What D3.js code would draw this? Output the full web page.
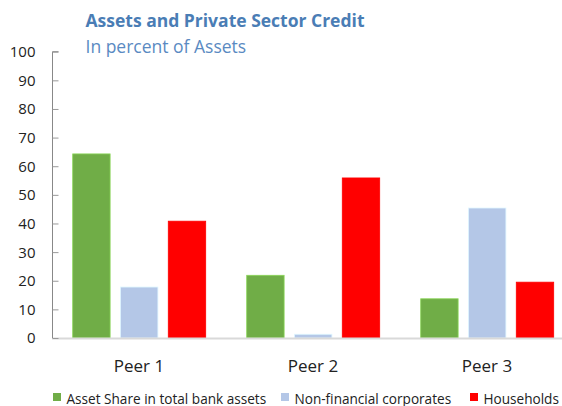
<!DOCTYPE html>
<html>
<head>
<meta charset="utf-8">
<script src="https://cdn.jsdelivr.net/npm/d3@7"></script>
<style>
  html, body { margin: 0; padding: 0; background: #fff; }
  svg { display: block; font-family: "Open Sans", "Noto Sans", sans-serif; }
</style>
</head>
<body>
<div id="chart"></div>
<script>
// Categories, series and axis ticks
const categories = ["Peer 1", "Peer 2", "Peer 3"];
const seriesNames = ["Asset Share in total bank assets", "Non-financial corporates", "Households"];
const assetShare = [64.3, 21.9, 13.7];
const nonFinancialCorporates = [17.8, 1.3, 45.4];
const households = [40.8, 55.9, 19.5];
const yTicks = [0, 10, 20, 30, 40, 50, 60, 70, 80, 90, 100];
const seriesColors = ["#70AD47", "#B4C7E7", "#FF0000"];

const seriesValues = [assetShare, nonFinancialCorporates, households];

const W = 562, H = 406;
const svg = d3.select("#chart").append("svg").attr("width", W).attr("height", H);

const x0 = d3.scaleBand().domain(categories).range([52, 574]).paddingInner(0).paddingOuter(0);
const x1 = d3.scaleBand().domain(seriesNames).range([20.7, 153.7]).paddingInner(0.217).paddingOuter(0);
const y = d3.scaleLinear().domain([0, 100]).range([338, 51.7]);

// Title and subtitle
svg.append("text").attr("x", 85.5).attr("y", 27)
  .attr("font-size", 17.5).attr("font-weight", 700).attr("fill", "#4A7DB5")
  .text("Assets and Private Sector Credit");
svg.append("text").attr("x", 85.5).attr("y", 53)
  .attr("font-size", 17.5).attr("fill", "#5A8AC2")
  .text("In percent of Assets");

// Bars
const groups = svg.append("g").selectAll("g").data(categories).join("g")
  .attr("transform", d => `translate(${x0(d)},0)`);
groups.selectAll("rect")
  .data((c, i) => seriesNames.map((s, k) => ({ s, k, v: seriesValues[k][i] })))
  .join("rect")
  .attr("x", d => x1(d.s))
  .attr("width", x1.bandwidth())
  .attr("y", d => y(d.v))
  .attr("height", d => y(0) - y(d.v))
  .attr("fill", d => seriesColors[d.k])
  .attr("stroke", d => d3.color(seriesColors[d.k]).brighter(0.6))
  .attr("stroke-width", 0.8);

// X baseline
svg.append("line").attr("x1", 52).attr("x2", 562).attr("y1", 338.5).attr("y2", 338.5)
  .attr("stroke", "#D9D9D9").attr("stroke-width", 2);

// Y axis
const yAxis = d3.axisRight(y).tickValues(yTicks).tickSize(6).tickFormat("");
const ga = svg.append("g").attr("transform", "translate(52.5,0)").call(yAxis);
ga.select(".domain").attr("stroke", "#888").attr("d", `M6,${y(100)}H0V${y(0)}`);
ga.selectAll(".tick line").attr("stroke", "#999");

svg.append("g").selectAll("text").data(yTicks).join("text")
  .attr("x", 35.5).attr("y", d => y(d)).attr("dy", "0.36em")
  .attr("text-anchor", "end").attr("font-size", 15).attr("fill", "#222")
  .text(d => d);

// Category labels
svg.append("g").selectAll("text").data(categories).join("text")
  .attr("x", d => x0(d) + x0.bandwidth() / 2).attr("y", 372)
  .attr("text-anchor", "middle").attr("font-size", 17).attr("fill", "#222")
  .text(d => d);

// Legend
const legendX = [53, 281, 470];
const lg = svg.append("g").selectAll("g").data(seriesNames).join("g")
  .attr("transform", (d, i) => `translate(${legendX[i]},0)`);
lg.append("rect").attr("x", 0).attr("y", 393).attr("width", 8).attr("height", 8)
  .attr("fill", (d, i) => seriesColors[i]);
lg.append("text").attr("x", 13.5).attr("y", 403.5)
  .attr("font-size", 13.6).attr("fill", "#222").text(d => d);
</script>
</body>
</html>
